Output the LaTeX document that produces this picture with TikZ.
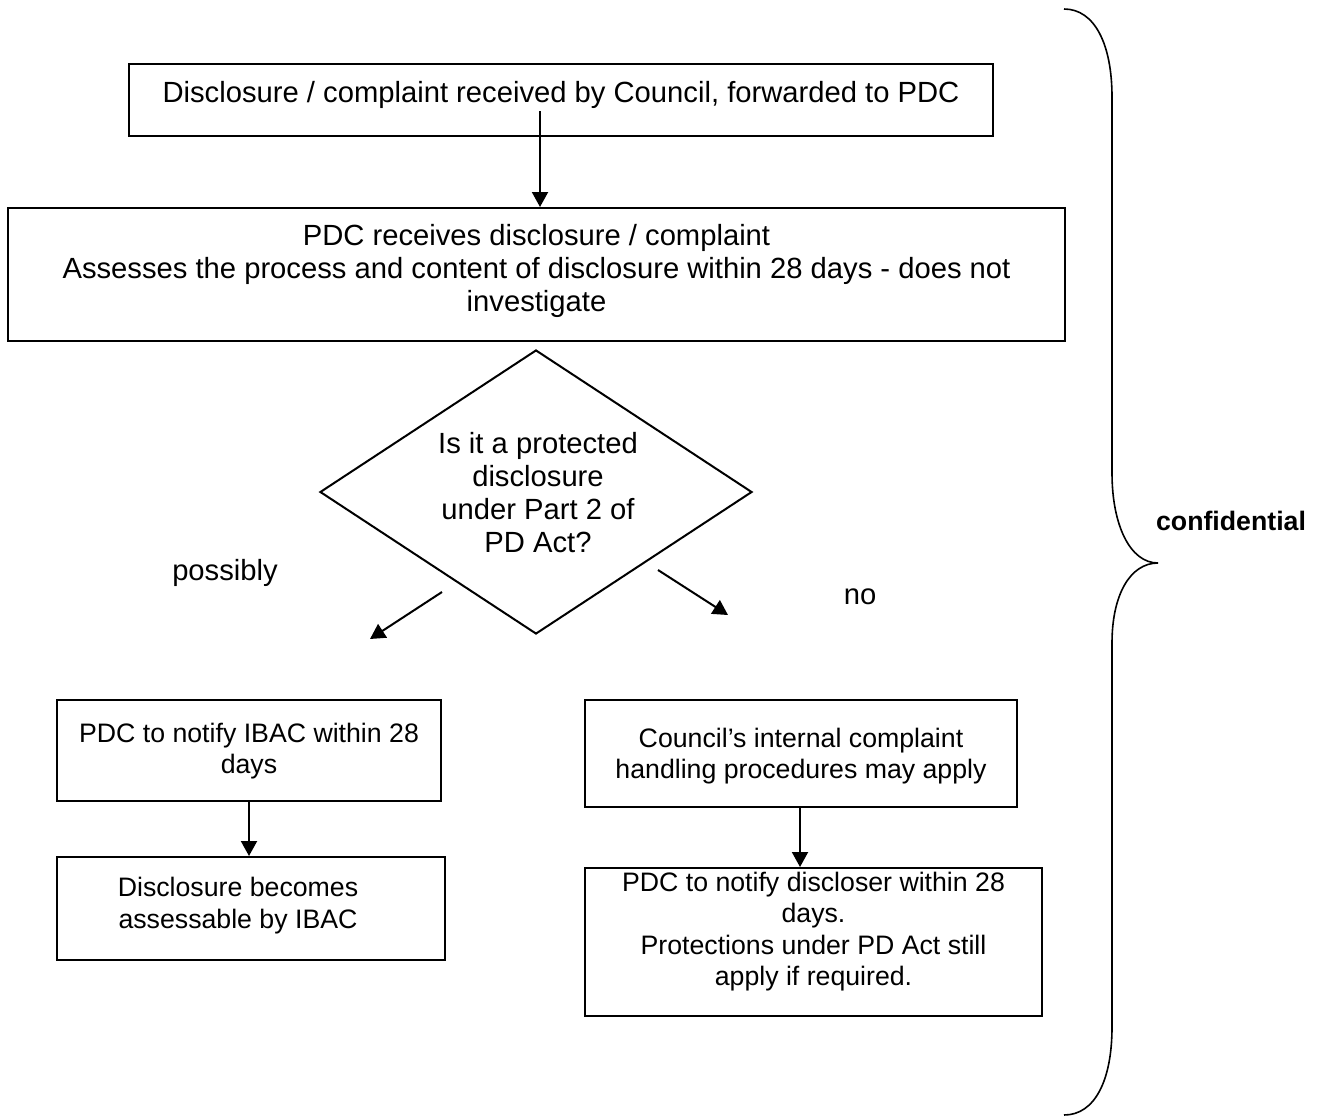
\documentclass[tikz,border=0pt]{standalone}
\usepackage{fontspec}
\setmainfont{Liberation Sans}
\usetikzlibrary{arrows.meta,shapes.geometric}
\begin{document}
\begin{tikzpicture}[x=1pt,y=-1pt,
  frame/.style={draw,line width=2pt,inner sep=0pt,anchor=center},
  txt/.style={align=center,inner sep=0pt,font=\fontsize{29.2}{33}\selectfont},
  smalltxt/.style={align=center,inner sep=0pt,font=\fontsize{26.7}{31.5}\selectfont},
  conn/.style={line width=2pt,-{Triangle[length=15pt,width=16pt]}},
  bracestyle/.style={line width=1.6pt}]
\useasboundingbox (0,0) rectangle (1325,1117);
% boxes
\node[frame,minimum width=864pt,minimum height=72pt] (b1) at (561,100) {};
\node[txt] (b1t) at (561,95) {Disclosure / complaint received by Council, forwarded to PDC};
\node[frame,minimum width=1057pt,minimum height=133pt] (b2) at (536.5,274.5) {};
\node[txt] (b2t) at (536.5,271) {PDC receives disclosure / complaint\\Assesses the process and content of disclosure within 28 days - does not\\investigate};
\node[draw,line width=2pt,shape=diamond,minimum width=432pt,minimum height=284pt,inner sep=0pt] (d) at (536,492) {};
\node[txt] (dt) at (538,493) {Is it a protected\\disclosure\\under Part 2 of\\PD Act?};
\node[txt] (poss) at (225,573) {possibly};
\node[txt] (no) at (860,597) {no};
\node[frame,minimum width=384pt,minimum height=101pt] (b3) at (249,750.5) {};
\node[smalltxt] (b3t) at (249,751) {PDC to notify IBAC within 28\\days};
\node[frame,minimum width=388pt,minimum height=103pt] (b4) at (251,908.5) {};
\node[smalltxt] (b4t) at (238,905.5) {Disclosure becomes\\assessable by IBAC};
\node[frame,minimum width=432pt,minimum height=107pt] (b5) at (801,753.5) {};
\node[smalltxt] (b5t) at (801,756) {Council’s internal complaint\\handling procedures may apply};
\node[frame,minimum width=457pt,minimum height=148pt] (b6) at (813.5,942) {};
\node[smalltxt] (b6t) at (813.5,931.5) {PDC to notify discloser within 28\\days.\\Protections under PD Act still\\apply if required.};
\node[font=\fontsize{26.7}{30}\selectfont\bfseries,inner sep=0pt] (conf) at (1231,521) {confidential};
% connectors
\coordinate (a1s) at (540,111);
\draw[conn] (a1s) -- (a1s |- b2.north);
\coordinate (pl1) at (442,592);
\coordinate (pl2) at (370,639);
\draw[conn] (pl1) -- (pl2);
\coordinate (pr1) at (658,570);
\coordinate (pr2) at (728,615);
\draw[conn] (pr1) -- (pr2);
\coordinate (a3s) at (249,801);
\draw[conn] (a3s) -- (a3s |- b4.north);
\coordinate (a5s) at (800,807);
\draw[conn] (a5s) -- (a5s |- b6.north);
% brace
\draw[bracestyle] (1064,9) .. controls (1095,9) and (1112,45) .. (1112,97)
  -- (1112,473) .. controls (1112,525) and (1130,563) .. (1158,563)
  .. controls (1130,563) and (1112,595) .. (1112,643)
  -- (1112,1027) .. controls (1112,1080) and (1095,1115) .. (1064,1115);
\end{tikzpicture}
\end{document}
